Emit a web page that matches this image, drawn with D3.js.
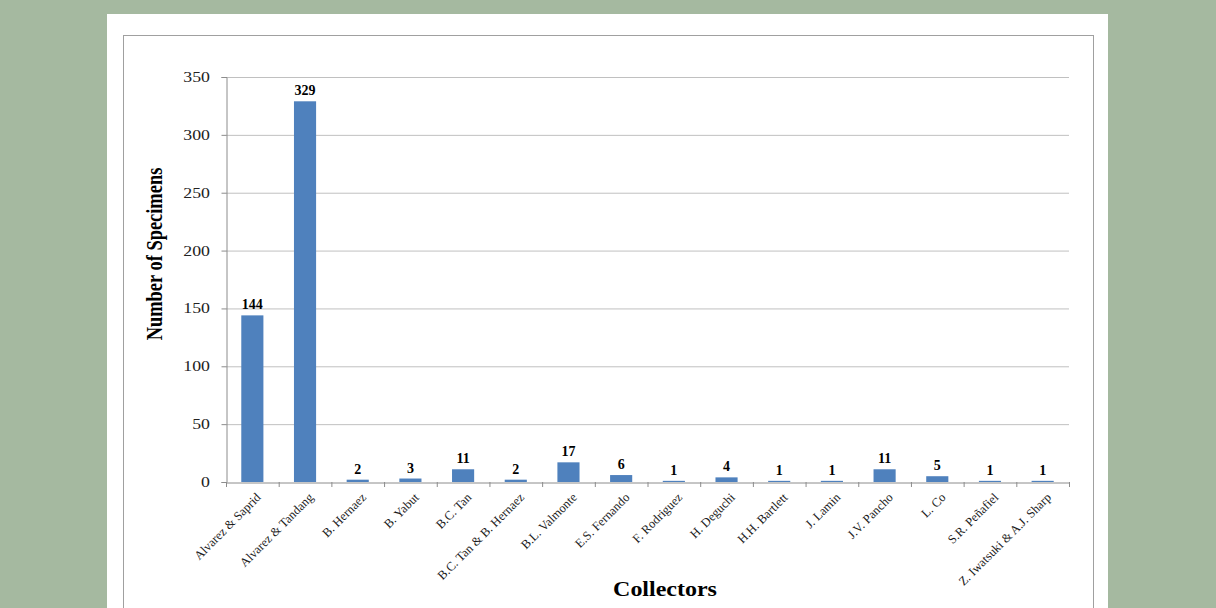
<!DOCTYPE html>
<html>
<head>
<meta charset="utf-8">
<script src="https://cdn.jsdelivr.net/npm/d3@7"></script>
<style>
body { margin: 0; background: #a5b9a0; }
svg { display: block; }
text { font-family: "Liberation Serif", "Times New Roman", serif; }
</style>
</head>
<body>
<script>
const collectors = ['Alvarez & Saprid', 'Alvarez & Tandang', 'B. Hernaez', 'B. Yabut', 'B.C. Tan',
    'B.C. Tan & B. Hernaez', 'B.L. Valmonte', 'E.S. Fernando', 'F. Rodriguez', 'H. Deguchi',
    'H.H. Bartlett', 'J. Lamin', 'J.V. Pancho', 'L. Co', 'S.R. Peñafiel', 'Z. Iwatsuki & A.J. Sharp'];
const specimens = [144, 329, 2, 3, 11, 2, 17, 6, 1, 4, 1, 1, 11, 5, 1, 1];
const yTicks = [0, 50, 100, 150, 200, 250, 300, 350];

const svg = d3.select(document.body)
    .append('svg')
    .attr('width', 1216)
    .attr('height', 608);

svg.append('rect').attr('width', 1216).attr('height', 608).attr('fill', '#a5b9a0');
// white page
svg.append('rect').attr('x', 107).attr('y', 14).attr('width', 1001).attr('height', 600).attr('fill', '#fff');
// chart border
svg.append('rect').attr('x', 123.5).attr('y', 35.5).attr('width', 970).attr('height', 600)
    .attr('fill', 'none').attr('stroke', '#a0a0a0').attr('stroke-width', 1);

const plotLeft = 226, plotRight = 1069, plotTop = 77, plotBottom = 482;
const stretch = 1.27; // text in the picture is a bit wide

const x = d3.scaleBand().domain(collectors).range([plotLeft, plotRight]).paddingInner(0.58).paddingOuter(0.29);
const xTick = d3.scaleBand().domain(collectors).range([plotLeft, plotRight]);
const y = d3.scaleLinear().domain([0, 350]).range([plotBottom, plotTop]);

// grid
svg.append('g')
    .selectAll('line')
    .data(yTicks.filter(d => d > 0))
    .enter()
    .append('line')
    .attr('x1', plotLeft).attr('x2', plotRight)
    .attr('y1', d => y(d) + 0.5).attr('y2', d => y(d) + 0.5)
    .attr('stroke', '#c0c0c0');

// y axis
const yAxis = d3.axisLeft(y).tickValues(yTicks).tickSize(5).tickPadding(8);
const gy = svg.append('g').attr('transform', `translate(${plotLeft + 0.5},0)`).call(yAxis);
gy.select('.domain').attr('stroke', '#8c8c8c');
gy.selectAll('.tick line').attr('stroke', '#8c8c8c');
gy.selectAll('.tick text')
    .attr('font-size', 14)
    .attr('fill', '#222')
    .attr('x', -16.5 / stretch)
    .attr('transform', `scale(${stretch},1)`)
    .style('font-family', '"Liberation Serif", serif');

// bars
svg.append('g')
    .selectAll('rect')
    .data(specimens)
    .enter()
    .append('rect')
    .attr('x', (d, i) => x(collectors[i]))
    .attr('y', d => y(d))
    .attr('width', x.bandwidth())
    .attr('height', d => plotBottom - y(d))
    .attr('fill', '#4f81bd');

// value labels
svg.append('g')
    .selectAll('text')
    .data(specimens)
    .enter()
    .append('text')
    .attr('x', (d, i) => x(collectors[i]) + x.bandwidth() / 2)
    .attr('y', d => y(d) - 6)
    .attr('text-anchor', 'middle')
    .attr('font-size', 14)
    .attr('font-weight', 'bold')
    .attr('fill', '#000')
    .text(d => d);

// x axis
const xAxis = d3.axisBottom(xTick).tickSize(0).tickFormat('');
const gx = svg.append('g').attr('transform', `translate(0,${plotBottom + 0.5})`).call(xAxis);
gx.select('.domain').attr('stroke', '#8c8c8c');
// ticks between categories
svg.append('g')
    .selectAll('line')
    .data(d3.range(collectors.length + 1))
    .enter()
    .append('line')
    .attr('x1', i => plotLeft + i * xTick.step() + 0.5)
    .attr('x2', i => plotLeft + i * xTick.step() + 0.5)
    .attr('y1', plotBottom).attr('y2', plotBottom + 5)
    .attr('stroke', '#8c8c8c');

// rotated category labels
svg.append('g')
    .selectAll('text')
    .data(collectors)
    .enter()
    .append('text')
    .attr('transform', d => `translate(${xTick(d) + xTick.bandwidth() / 2 + 3},${plotBottom + 10}) rotate(-45)`)
    .attr('text-anchor', 'end')
    .attr('dy', '0.7em')
    .attr('font-size', 12.5)
    .attr('fill', '#1a1a1a')
    .text(d => d);

// axis titles
svg.append('text')
    .attr('transform', `translate(162,254) rotate(-90) scale(0.97,1.2)`)
    .attr('text-anchor', 'middle')
    .attr('font-size', 19)
    .attr('font-weight', 'bold')
    .text('Number of Specimens');

svg.append('text')
    .attr('transform', `translate(665,596) scale(1.2,1)`)
    .attr('text-anchor', 'middle')
    .attr('font-size', 20)
    .attr('font-weight', 'bold')
    .text('Collectors');
</script>
</body>
</html>
